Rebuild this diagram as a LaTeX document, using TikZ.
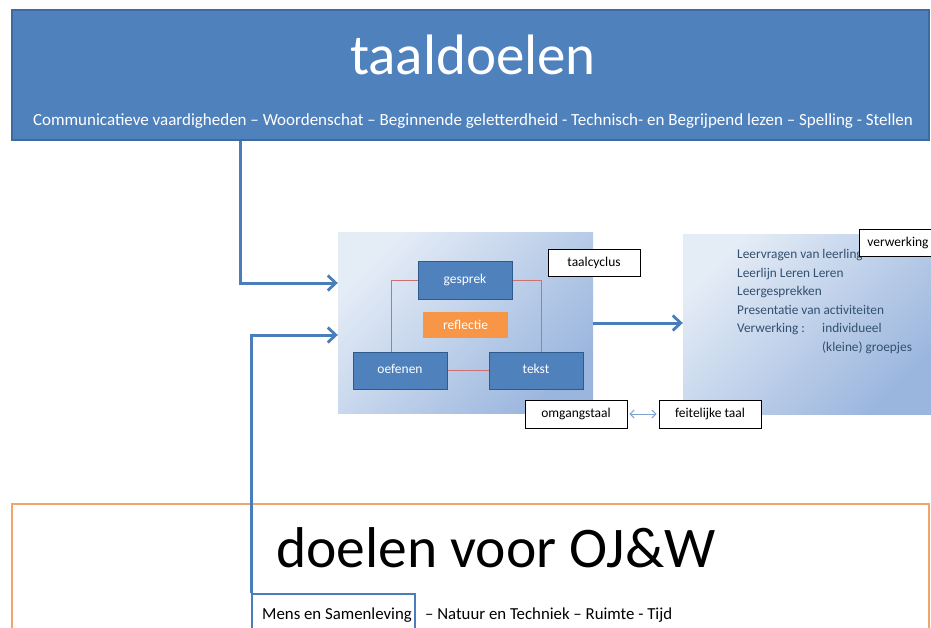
\documentclass[tikz,border=0pt]{standalone}
\usepackage{fontspec}
\setmainfont{Carlito}
\usetikzlibrary{arrows.meta}
\definecolor{bannerblue}{HTML}{4F81BD}
\definecolor{bannerline}{HTML}{3D6A9F}
\definecolor{arrowblue}{HTML}{4A7EBB}
\definecolor{boxline}{HTML}{2F5A8C}
\definecolor{panellight}{HTML}{E4ECF6}
\definecolor{paneldark}{HTML}{9BB6DE}
\definecolor{cycred}{HTML}{CC7070}
\definecolor{reflorange}{HTML}{F79646}
\definecolor{ojwline}{HTML}{F5A469}
\definecolor{slatetext}{HTML}{33506F}
\definecolor{lightarrow}{HTML}{7EA3D3}
\tikzset{
  arr/.style={draw=arrowblue, line width=3pt, -{Straight Barb[length=8pt,width=15pt,line width=2.8pt]}},
  panel/.style={rectangle, inner sep=0pt, top color=panellight, bottom color=paneldark, shading angle=45},
  cycbox/.style={rectangle, draw=boxline, line width=1pt, fill=bannerblue, text=white, font=\fontsize{13.5}{15}\selectfont, minimum width=94pt, minimum height=37pt, inner sep=0pt},
  label box/.style={rectangle, draw=black, line width=0.8pt, fill=white, font=\fontsize{13.5}{15}\selectfont, inner sep=0pt},
  cycline/.style={draw=cycred, line width=0.9pt},
}
\begin{document}
\begin{tikzpicture}[x=1pt,y=-1pt]
\useasboundingbox (0,0) rectangle (931,628);
% banner
\node[rectangle, fill=bannerblue, draw=bannerline, line width=1.2pt, minimum width=917pt, minimum height=130pt, inner sep=0pt] (banner) at (470.5,75) {};
\node[anchor=base, text=white, font=\fontsize{57}{60}\selectfont, inner sep=0pt] (bannertitle) at (473,75) {taaldoelen};
\node[anchor=base, text=white, font=\fontsize{17}{19}\selectfont, inner sep=0pt] (bannersub) at (473,126) {Communicatieve vaardigheden – Woordenschat – Beginnende geletterdheid - Technisch- en Begrijpend lezen – Spelling - Stellen};
% panels
\node[panel, minimum width=255pt, minimum height=180pt] (lpanel) at (465.5,323) {};
\node[panel, minimum width=250pt, minimum height=179pt] (rpanel) at (808,324.5) {};
% cycle boxes
\node[cycbox] (gesprek) at (465,280.5) {\raisebox{3pt}{gesprek}};
\node[cycbox] (oefenen) at (400,370.5) {\raisebox{3pt}{oefenen}};
\node[cycbox] (tekst) at (536,370.5) {\raisebox{3pt}{tekst}};
\node[rectangle, fill=reflorange, text=white, font=\fontsize{13.5}{15}\selectfont, minimum width=85pt, minimum height=26pt, inner sep=0pt] (reflectie) at (465.5,325) {reflectie};
\coordinate (lcorner) at (391,280.5);
\coordinate (rcorner) at (541,280.5);
\draw[cycline] (gesprek.west) -- (lcorner) -- (lcorner |- oefenen.north);
\draw[cycline] (gesprek.east) -- (rcorner) -- (rcorner |- tekst.north);
\draw[cycline] (oefenen.east) -- (tekst.west);
% label boxes
\node[label box, minimum width=92pt, minimum height=27pt] (taalcyclus) at (594,262.5) {taalcyclus};
\node[anchor=north west, text=slatetext, font=\fontsize{13.3}{18.6}\selectfont, align=left, inner sep=0pt] (rtext) at (737,249) {Leervragen van leerling\\Leerlijn Leren Leren\\Leergesprekken\\Presentatie van activiteiten\\\makebox[85pt][l]{Verwerking :}individueel\\\hspace*{85pt}(kleine) groepjes};
\node[label box, minimum width=80pt, minimum height=27pt, anchor=west, text width=72pt, align=left, inner xsep=8pt] (verwerking) at (859,242.5) {verwerking};
\node[label box, minimum width=102pt, minimum height=28pt] (omgang) at (576,414) {omgangstaal};
\node[label box, minimum width=102pt, minimum height=28pt] (feitelijk) at (710,414) {feitelijke taal};
\draw[draw=lightarrow, line width=1pt, {Straight Barb[length=4pt,width=8pt]}-{Straight Barb[length=4pt,width=8pt]}] ([xshift=2pt]omgang.east) -- ([xshift=-2pt]feitelijk.west);
% bottom box
\node[rectangle, draw=ojwline, line width=2pt, minimum width=917pt, minimum height=140pt, inner sep=0pt] (ojw) at (470,574) {};
\node[anchor=base, font=\fontsize{57.5}{60}\selectfont, inner sep=0pt] (ojwtitle) at (496,567) {doelen voor OJ\&W};
\node[rectangle, draw=arrowblue, line width=1.2pt, minimum width=163pt, minimum height=40pt, inner sep=0pt] (mens) at (333.5,614) {};
\node[anchor=base west, font=\fontsize{16.8}{18}\selectfont, inner sep=0pt] (menstext) at (262,619) {Mens en Samenleving};
\node[anchor=base west, font=\fontsize{16.8}{18}\selectfont, inner sep=0pt] (ojwsub) at (425,619) {– Natuur en Techniek – Ruimte - Tijd};
% arrows
\draw[arr] ([xshift=229pt]banner.south west) |- ([yshift=40pt]lpanel.west);
\draw[arr] (mens.north west) |- ([yshift=-12pt]lpanel.west);
\draw[arr] (lpanel.east) -- (lpanel.east -| rpanel.west);
\end{tikzpicture}
\end{document}
